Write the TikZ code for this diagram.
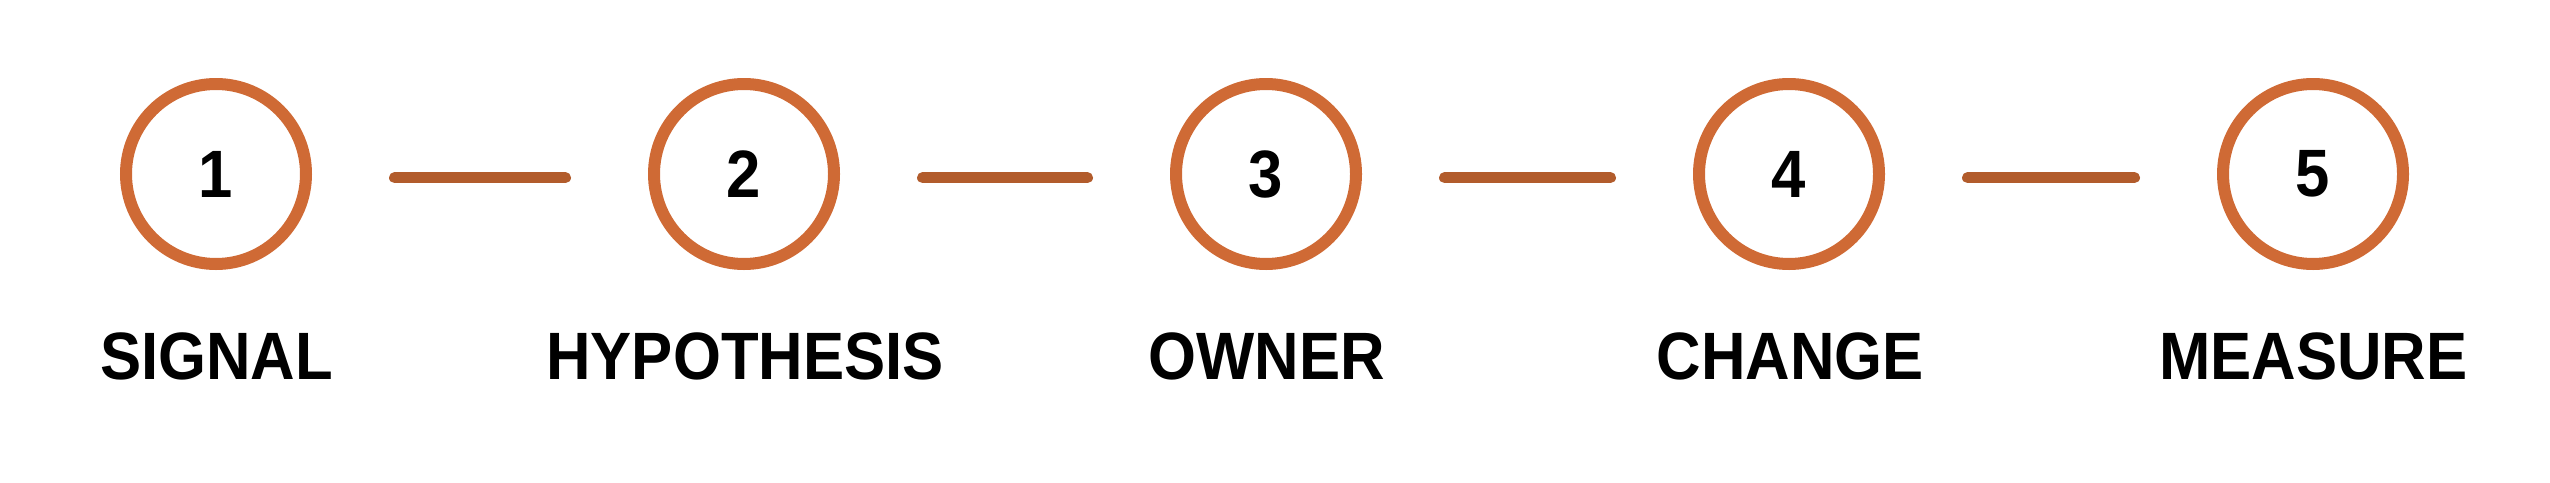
\documentclass[tikz,border=0pt]{standalone}
\usepackage{fontspec}
\setmainfont{Liberation Sans}[FakeStretch=0.92]
\definecolor{ringc}{HTML}{CF6A35}
\definecolor{linec}{HTML}{B25C2C}
\begin{document}
\begin{tikzpicture}[x=1pt,y=-1pt,
  ring/.style={circle,draw=ringc,line width=12pt,minimum size=180pt,inner sep=0pt,outer sep=0pt,
    font=\fontsize{67}{67}\selectfont\bfseries,text=black},
  lab/.style={anchor=base,inner sep=0pt,font=\fontsize{67}{67}\selectfont\bfseries,text=black},
  conn/.style={draw=linec,line width=11pt,line cap=round,shorten <=88.5pt,shorten >=88.5pt}]
\useasboundingbox (0,0) rectangle (2550,482);
\node[ring] (c1) at (216,174) {1};
\node[ring] (c2) at (744,174) {2};
\node[ring] (c3) at (1266,174) {3};
\node[ring] (c4) at (1789,174) {4};
\node[ring] (c5) at (2313,174) {5};
\node[lab] (l1) at (216.5,379) {SIGNAL};
\node[lab] (l2) at (745,379) {HYPOTHESIS};
\node[lab] (l3) at (1266.5,379) {OWNER};
\node[lab] (l4) at (1790.5,379) {CHANGE};
\node[lab] (l5) at (2313.5,379) {MEASURE};
\foreach \a/\b in {c1/c2,c2/c3,c3/c4,c4/c5}
  \draw[conn] ([yshift=-3.7pt]\a.east) -- ([yshift=-3.7pt]\b.west);
\end{tikzpicture}
\end{document}
